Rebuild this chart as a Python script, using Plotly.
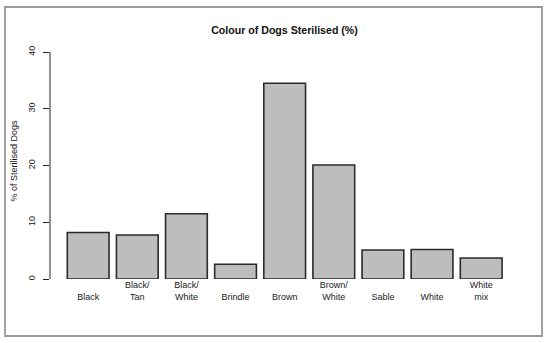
import plotly.graph_objects as go

categories = ["Black", "Black/Tan", "Black/White", "Brindle", "Brown",
              "Brown/White", "Sable", "White", "White mix"]
tick_labels = ["<br>Black", "Black/<br>Tan", "Black/<br>White", "<br>Brindle", "<br>Brown",
               "Brown/<br>White", "<br>Sable", "<br>White", "White<br>mix"]
values = [8.2, 7.75, 11.5, 2.6, 34.5, 20.1, 5.1, 5.2, 3.7]
y_ticks = [0, 10, 20, 30, 40]

FONT = "Liberation Sans, Arial, sans-serif"

fig = go.Figure(go.Bar(
    x=list(range(len(categories))),
    y=values,
    marker=dict(color="#bdbdbd", line=dict(color="#2b2b2b", width=1.6)),
    hoverinfo="skip",
))

fig.update_layout(
    width=550, height=343,
    margin=dict(l=50, r=31, t=43, b=64, autoexpand=False),
    paper_bgcolor="white", plot_bgcolor="white",
    bargap=0.15,
    showlegend=False,
    font=dict(family=FONT, size=9, color="#1a1a1a"),
    title=dict(text="<b>Colour of Dogs Sterilised (%)</b>", x=0.5, xref="paper",
               y=(343 - 30) / 343, yref="container", yanchor="middle",
               font=dict(family=FONT, size=10.6, color="#111")),
    xaxis=dict(
        tickmode="array", tickvals=list(range(len(categories))), ticktext=tick_labels,
        range=[-0.777, 8.77], showline=False, showgrid=False, zeroline=False,
        ticks="", tickfont=dict(size=9, color="#1a1a1a"), ticklabelstandoff=-1,
        automargin=False,
    ),
    yaxis=dict(
        range=[0, 41.6], tickmode="array", tickvals=y_ticks,
        ticktext=[str(v) for v in y_ticks],
        showline=False, showgrid=False, zeroline=False,
        ticks="outside", ticklen=6, tickwidth=1, tickcolor="#222",
        tickangle=-90, tickfont=dict(size=9, color="#1a1a1a"), ticklabelstandoff=4,
        title=dict(text="% of Sterilised Dogs", font=dict(size=9, color="#1a1a1a"), standoff=8),
        automargin=False,
    ),
    shapes=[
        dict(type="line", xref="paper", yref="y", x0=0, x1=0, y0=0, y1=40,
             line=dict(color="#222", width=1)),
        dict(type="rect", xref="paper", yref="paper",
             x0=(5 - 50) / 469, x1=(542 - 50) / 469,
             y0=(279 - 336) / 236, y1=(279 - 7) / 236,
             line=dict(color="#9a9a9a", width=1.8), fillcolor="rgba(0,0,0,0)"),
    ],
)

fig.write_html("out.html", config={"displayModeBar": False},
               post_script="document.body.style.margin='0';document.body.style.padding='0';")
